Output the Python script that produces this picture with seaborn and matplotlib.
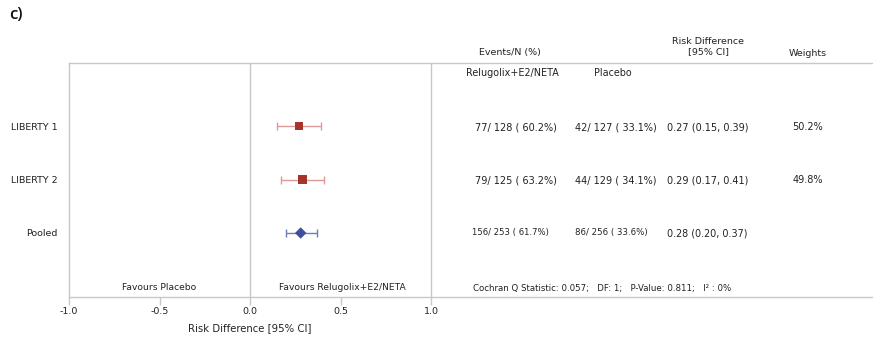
import matplotlib
matplotlib.use("Agg")
import matplotlib.pyplot as plt
import seaborn as sns
import pandas as pd
from matplotlib.lines import Line2D

# Study-level data
studies = ["LIBERTY 1", "LIBERTY 2", "Pooled"]
events_trt = [77, 79, 156]
n_trt = [128, 125, 253]
pct_trt = [60.2, 63.2, 61.7]
events_pbo = [42, 44, 86]
n_pbo = [127, 129, 256]
pct_pbo = [33.1, 34.1, 33.6]
risk_diff = [0.27, 0.29, 0.28]
ci_low = [0.15, 0.17, 0.20]
ci_high = [0.39, 0.41, 0.37]
weights = ["50.2%", "49.8%", ""]
x_ticks = [-1.0, -0.5, 0.0, 0.5, 1.0]

df = pd.DataFrame({
    "study": studies, "row": range(len(studies)),
    "rd": risk_diff, "lo": ci_low, "hi": ci_high,
    "kind": ["study", "study", "pooled"],
})

sns.set_theme(style="white")
plt.rcParams["font.family"] = ["DejaVu Sans"]

W, H = 873, 339
fig = plt.figure(figsize=(W / 100, H / 100), dpi=100)

GRID = "#c8c8c8"
TXT = "#222222"

# Axes spanning the forest plot area
x0, x1, ytop, ybot = 69, 431, 63, 297
ax = fig.add_axes([x0 / W, 1 - ybot / H, (x1 - x0) / W, (ybot - ytop) / H])
ax.set_xlim(-1.0, 1.0)
row_gap = 53.5
ax.set_ylim((ybot - 126) / row_gap, (ytop - 126) / row_gap)

for s in ["top", "bottom"]:
    ax.spines[s].set_visible(False)
for s in ["left", "right"]:
    ax.spines[s].set_color(GRID)
    ax.spines[s].set_linewidth(1.0)
ax.axvline(0, color=GRID, lw=1.0, zorder=0)

# Confidence intervals
ci_colors = {"study": "#dc9a96", "pooled": "#6f7fb5"}
for _, r in df.iterrows():
    ax.errorbar(r["rd"], r["row"], xerr=[[r["rd"] - r["lo"]], [r["hi"] - r["rd"]]],
                fmt="none", ecolor=ci_colors[r["kind"]], elinewidth=1.0,
                capsize=3, capthick=1.0, zorder=2)

# Point estimates
sns.scatterplot(data=df, x="rd", y="row", hue="kind", style="kind",
                palette={"study": "#a8332b", "pooled": "#3d4f9e"},
                markers={"study": "s", "pooled": "D"},
                s=34, edgecolor="none", legend=False, ax=ax, zorder=3)

ax.set_yticks(df["row"])
ax.set_yticklabels(studies, fontsize=6.8, color=TXT)
ax.tick_params(axis="y", length=0, pad=8)
ax.set_xticks(x_ticks)
ax.set_xticklabels([f"{v:.1f}" for v in x_ticks], fontsize=6.8, color=TXT)
ax.tick_params(axis="x", direction="out", length=6, width=1.0, color=GRID, pad=1, bottom=True)
ax.set_xlabel("Risk Difference [95% CI]", fontsize=7.3, color=TXT, labelpad=5)
ax.set_ylabel("")

# Horizontal rules across the whole table
fig.add_artist(Line2D([x0 / W, 1.0], [1 - ytop / H] * 2, color=GRID, lw=1.0))
fig.add_artist(Line2D([x0 / W, 1.0], [1 - ybot / H] * 2, color=GRID, lw=1.0))


def put(x, y, s, size=7, ha="left", color=TXT, **kw):
    fig.text(x / W, 1 - y / H, s, fontsize=size, ha=ha, va="center", color=color, **kw)


# Panel tag
put(9, 15, "c)", size=12, color="#111111", family=["Open Sans"], weight="semibold")

# Column headers
put(510, 53, "Events/N (%)", ha="center", size=6.8)
put(708, 42, "Risk Difference", ha="center", size=6.8)
put(708, 52, "[95% CI]", ha="center", size=6.8)
put(808, 53, "Weights", ha="center", size=6.8)
put(466, 73, "Relugolix+E2/NETA", size=6.9)
put(594, 73, "Placebo", size=6.9)

# Table rows
row_y = [127, 180, 233]
for i in range(len(studies)):
    pooled = i == len(studies) - 1
    put(472 if pooled else 475, row_y[i],
        f"{events_trt[i]}/ {n_trt[i]} ( {pct_trt[i]:.1f}%)", size=6.1 if pooled else 7)
    put(575, row_y[i],
        f"{events_pbo[i]}/ {n_pbo[i]} ( {pct_pbo[i]:.1f}%)", size=6.2 if pooled else 7)
    put(667, row_y[i],
        f"{risk_diff[i]:.2f} ({ci_low[i]:.2f}, {ci_high[i]:.2f})", size=6.9 if pooled else 7)
    if weights[i]:
        put(808, row_y[i], weights[i], ha="center")

put(159, 287, "Favours Placebo", ha="center", size=6.6)
put(342, 287, "Favours Relugolix+E2/NETA", ha="center", size=6.6)
put(473, 289, "Cochran Q Statistic: 0.057;   DF: 1;   P-Value: 0.811;   I² : 0%", size=6.2)

fig.savefig("out.png", dpi=100)
